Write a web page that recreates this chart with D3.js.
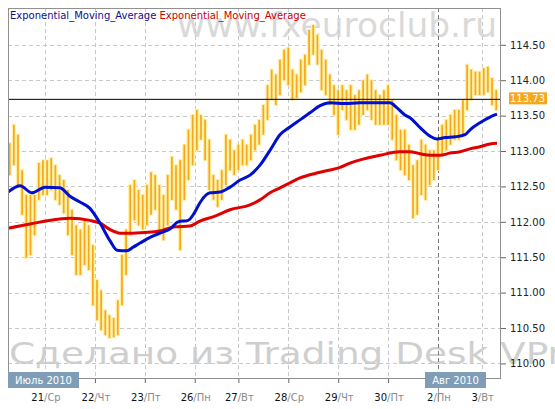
<!DOCTYPE html>
<html><head><meta charset="utf-8">
<script src="https://cdn.jsdelivr.net/npm/d3@7"></script>
<style>body{margin:0;background:#fff}svg{display:block}text{font-family:"DejaVu Sans",sans-serif}</style>
</head><body><svg id="c" width="555" height="409"></svg>
<script>
// ---- data ----
// 2-hour price bars, hours counted from 21 Jul 00:00 (trading hours)
const barHours = d3.range(-17, 218, 2);
const priceHigh = [113.11,113.37,113.23,112.73,112.38,112.38,112.38,112.83,112.87,112.87,112.90,112.80,112.66,112.59,112.45,112.17,111.95,111.89,112.02,111.95,
111.67,111.18,111.03,110.75,110.68,110.64,110.89,111.53,111.89,112.52,112.59,112.45,112.38,112.52,112.70,112.66,112.52,112.38,112.66,112.92,
112.80,112.87,113.09,113.30,113.51,113.58,113.51,113.44,113.16,112.66,112.59,112.73,113.23,113.16,113.01,113.09,113.16,113.09,113.23,113.37,
113.44,113.65,113.93,114.15,114.08,114.29,114.43,114.46,114.15,114.08,114.29,114.36,114.71,114.78,114.64,114.43,114.29,114.08,113.93,113.86,
113.93,113.86,113.93,113.79,113.86,114.00,114.08,114.00,113.86,113.79,113.86,113.93,113.72,113.51,113.30,113.30,113.09,112.80,112.87,113.16,
113.09,113.01,113.01,113.16,113.37,113.44,113.51,113.58,113.58,113.72,114.22,114.15,114.12,114.12,114.17,114.19,114.03,113.86];
const priceLow = [112.66,112.80,112.52,112.10,111.49,111.53,111.81,112.31,112.38,112.38,112.45,112.31,112.24,112.12,111.81,111.53,111.25,111.25,111.39,111.32,
110.82,110.61,110.47,110.40,110.36,110.37,110.40,110.82,111.25,111.81,112.02,111.95,111.89,111.95,112.10,112.17,111.81,111.74,111.95,112.31,
112.17,111.60,112.31,112.59,112.80,113.01,113.16,112.87,112.45,112.31,112.21,112.31,112.52,112.73,112.66,112.73,112.80,112.80,112.87,113.01,
113.09,113.23,113.44,113.72,113.65,113.79,114.00,113.93,113.72,113.75,113.83,113.93,114.22,114.36,114.22,113.86,113.79,113.65,113.51,113.23,
113.58,113.44,113.30,113.30,113.37,113.51,113.58,113.44,113.37,113.37,113.37,113.37,113.16,112.87,112.73,112.66,112.59,112.05,112.10,112.38,
112.31,112.52,112.59,112.73,112.94,113.01,113.09,113.16,113.16,113.23,113.58,113.72,113.79,113.79,113.79,113.83,113.65,113.58];
const lastPrice = 113.73;

const emaFastHours = [-17.8,-12,-6.3,0,7.2,12,16.8,21.6,26.5,31.3,34.6,39.4,42.3,45.7,50.5,55.3,60.1,64,68.8,72.1,74.5,79.4,84.2,89,93.8,98.6,103.4,108.2,113,117.8,122.6,127.4,132.3,137.1,144.3,151.5,165.9,169.3,173.1,175.5,180.4,185.2,188.5,192.4,197.2,202,204.4,209.2,214,217.4];
const emaFast = [112.42,112.51,112.41,112.49,112.48,112.36,112.28,112.19,111.98,111.73,111.60,111.59,111.64,111.70,111.78,111.84,111.90,112.00,112.02,112.14,112.27,112.41,112.42,112.49,112.59,112.66,112.80,113.01,113.23,113.34,113.44,113.54,113.64,113.68,113.67,113.68,113.68,113.61,113.51,113.47,113.33,113.21,113.17,113.19,113.20,113.23,113.30,113.40,113.48,113.52];
const emaSlowHours = [-17.8,-7.2,7.2,12,21.6,26.5,31.3,36.1,40.9,48.1,55.3,62.5,69.7,74.5,81.8,89,98.6,103.4,108.2,113,117.8,122.6,132.3,141.9,146.7,161.1,170.7,175.5,180.4,185.2,189.9,194.8,199.6,204.4,209.2,214,217.4];
const emaSlow = [111.91,111.97,112.04,112.05,112.02,111.98,111.89,111.84,111.84,111.85,111.87,111.93,111.94,112.01,112.08,112.17,112.24,112.31,112.41,112.48,112.55,112.62,112.70,112.77,112.83,112.94,112.99,112.99,112.96,112.94,112.94,112.97,112.99,113.03,113.06,113.10,113.11];

const yTicks = [110.0,110.5,111.0,111.5,112.0,112.5,113.0,113.5,114.0,114.5];
const dayHours = [0,24,48,72,93,117,141,165,189,210];
const dayNums = ["21","22","23","26","27","28","29","30","2","3"];
const dayNames = ["Ср","Чт","Пт","Пн","Вт","Ср","Чт","Пт","Пн","Вт"];
const monthLabels = ["Июль 2010","Авг 2010"];
const monthHours = [-17.8, 189];
const legendNames = ["Exponential_Moving_Average","Exponential_Moving_Average"];

// ---- layout ----
const L = 8, R = 501, T = 8, B = 379;
const svg = d3.select("#c");
const x = d3.scaleLinear().domain([-17.8, 219.3]).range([L, R]);
const y = d3.scaleLinear().domain([109.78, 115.02]).range([B, T]);

svg.append("rect").attr("width",555).attr("height",409).attr("fill","#fff");
svg.append("defs").append("clipPath").attr("id","pc").append("rect")
  .attr("x",L).attr("y",T).attr("width",R-L).attr("height",B-T);

// watermarks
svg.append("text").attr("x",177).attr("y",37)
  .attr("font-size",33).attr("fill","#d9d9d9").attr("textLength",320).attr("lengthAdjust","spacingAndGlyphs")
  .text("www.fxeuroclub.ru");
svg.append("text").attr("x",9).attr("y",364)
  .attr("font-size",30).attr("fill","#cfcfcf").attr("textLength",576).attr("lengthAdjust","spacingAndGlyphs")
  .text("Сделано из Trading Desk VPro");

// grid
const grid = svg.append("g");
grid.selectAll("line.h").data(yTicks).join("line")
  .attr("x1",L).attr("x2",R).attr("y1",d=>Math.round(y(d))+0.5).attr("y2",d=>Math.round(y(d))+0.5)
  .attr("stroke","#c8c8c8").attr("stroke-dasharray","4,3");
grid.selectAll("line.v").data(dayHours).join("line")
  .attr("y1",T).attr("y2",B).attr("x1",d=>Math.round(x(d))+0.5).attr("x2",d=>Math.round(x(d))+0.5)
  .attr("stroke",(d,i)=>i===8?"#777":"#c8c8c8").attr("stroke-dasharray","4,3");

// bars
const bars = svg.append("g").attr("clip-path","url(#pc)");
const bd = barHours.map((h,i)=>({h, hi:priceHigh[i], lo:priceLow[i]}));
bars.selectAll("line.g").data(bd).join("line")
  .attr("x1",d=>x(d.h)).attr("x2",d=>x(d.h)).attr("y1",d=>y(d.hi)-1).attr("y2",d=>y(d.lo)+1)
  .attr("stroke","#fff0a6").attr("stroke-width",4.3);
bars.selectAll("line.b").data(bd).join("line")
  .attr("x1",d=>x(d.h)).attr("x2",d=>x(d.h)).attr("y1",d=>y(d.hi)).attr("y2",d=>y(d.lo))
  .attr("stroke","#f5a81c").attr("stroke-width",1.7);

// current price line
svg.append("line").attr("x1",L).attr("x2",R).attr("y1",y(lastPrice)).attr("y2",y(lastPrice))
  .attr("stroke","#000").attr("stroke-width",1);

// EMA lines
const line = d3.line().x(d=>x(d[0])).y(d=>y(d[1])).curve(d3.curveMonotoneX);
const lines = svg.append("g").attr("clip-path","url(#pc)");
lines.append("path").attr("d",line(emaSlowHours.map((h,i)=>[h,emaSlow[i]])))
  .attr("fill","none").attr("stroke","#e00000").attr("stroke-width",3);
lines.append("path").attr("d",line(emaFastHours.map((h,i)=>[h,emaFast[i]])))
  .attr("fill","none").attr("stroke","#0010d0").attr("stroke-width",3);

// frame
svg.append("rect").attr("x",L+0.5).attr("y",T+0.5).attr("width",R-L-1).attr("height",B-T-1)
  .attr("fill","none").attr("stroke","#909090");

// right axis
const ya = svg.append("g").attr("transform",`translate(${R},0)`)
  .call(d3.axisRight(y).tickValues(yTicks).tickSize(5).tickPadding(4).tickFormat(d3.format(".2f")));
ya.select(".domain").remove();
ya.selectAll(".tick line").attr("stroke","#666");
ya.selectAll(".tick text").attr("font-size",10).attr("fill","#222").style("font-family","'DejaVu Sans'");

// bottom axis
const xa = svg.append("g").attr("transform",`translate(0,${B})`)
  .call(d3.axisBottom(x).tickValues(dayHours).tickSize(4).tickFormat(""));
xa.select(".domain").remove();
xa.selectAll(".tick line").attr("y2",(d,i)=>i===8?23:4)
  .attr("stroke",(d,i)=>i===8?"#999":"#666");
const lab = svg.append("g").selectAll("text").data(dayHours).join("text")
  .attr("x",d=>x(d)+1).attr("y",401).attr("text-anchor","middle").attr("font-size",10);
lab.append("tspan").attr("fill","#111").text((d,i)=>dayNums[i]);
lab.append("tspan").attr("fill","#8a8a8a").text((d,i)=>"/"+dayNames[i]);

// month boxes
const mb = svg.append("g");
const mWidths = [71, 61];
const mX = [x(monthHours[0]), x(monthHours[1])-13];
monthLabels.forEach((m,i)=>{
  mb.append("rect").attr("x",mX[i]).attr("y",372).attr("width",mWidths[i]).attr("height",16).attr("fill","#7f9db6");
  mb.append("text").attr("x",mX[i]+mWidths[i]/2).attr("y",384).attr("text-anchor","middle")
    .attr("font-size",10).attr("fill","#fff").text(m);
});

// legend
const lg = svg.append("text").attr("x",10).attr("y",19).attr("font-size",10);
lg.append("tspan").attr("fill","#10108c").text(legendNames[0]+" ");
lg.append("tspan").attr("fill","#cc0000").text(legendNames[1]);

// last price label
const ly = y(lastPrice);
svg.append("rect").attr("x",509).attr("y",ly-7).attr("width",38).attr("height",12).attr("fill","#f5a81c");
svg.append("text").attr("x",510).attr("y",ly+3).attr("font-size",10).attr("fill","#fff").text(lastPrice.toFixed(2));
</script></body></html>
